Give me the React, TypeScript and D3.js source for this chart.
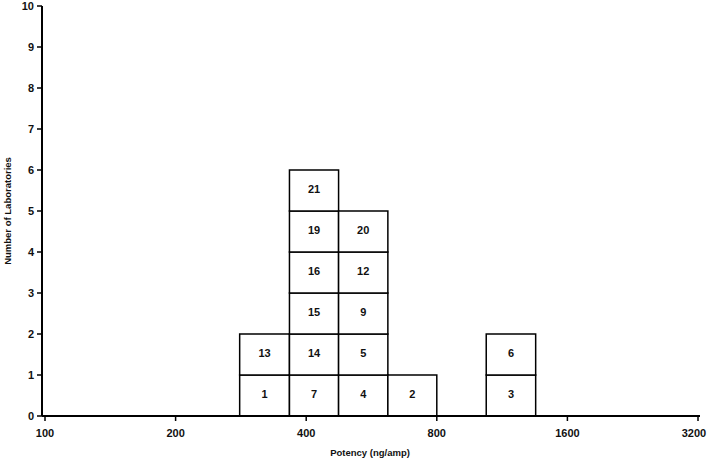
import React from "react";
import * as d3 from "d3";

const xTicks = [100, 200, 400, 800, 1600, 3200];
const yTicks = [0, 1, 2, 3, 4, 5, 6, 7, 8, 9, 10];
const binEdges = [281, 366, 475, 617, 800, 1040, 1352];
const binLabs: number[][] = [
  [1, 13],
  [7, 14, 15, 16, 19, 21],
  [4, 5, 9, 12, 20],
  [2],
  [],
  [3, 6],
];

const W = 709;
const H = 463;
const font = "Liberation Sans, Arial, sans-serif";

export default function App() {
  const x = d3.scaleLog().base(2).domain([100, 3200]).range([45, 698]);
  const y = d3.scaleLinear().domain([0, 10]).range([416, 6]);
  const axisLeft = 42;
  const axisRight = 700;

  const cells: { x0: number; x1: number; level: number; lab: number }[] = [];
  binLabs.forEach((labs, i) => {
    labs.forEach((lab, j) => {
      cells.push({ x0: binEdges[i], x1: binEdges[i + 1], level: j, lab });
    });
  });

  return (
    <svg
      width={W}
      height={H}
      style={{ position: "absolute", left: 0, top: 0, background: "#fff" }}
    >
      {cells.map((c, k) => (
        <g key={k}>
          <rect
            x={x(c.x0)}
            y={y(c.level + 1)}
            width={x(c.x1) - x(c.x0)}
            height={y(c.level) - y(c.level + 1)}
            fill="#fff"
            stroke="#000"
            strokeWidth={1.5}
          />
          <text
            x={(x(c.x0) + x(c.x1)) / 2}
            y={(y(c.level) + y(c.level + 1)) / 2 - 1}
            dy="0.35em"
            textAnchor="middle"
            fontFamily={font}
            fontSize={11}
            fontWeight="bold"
            fill="#111"
          >
            {c.lab}
          </text>
        </g>
      ))}
      {/* axes */}
      <line x1={axisLeft} x2={axisRight} y1={y(0)} y2={y(0)} stroke="#000" strokeWidth={2} />
      <line x1={axisLeft} x2={axisLeft} y1={y(0)} y2={y(10)} stroke="#000" strokeWidth={2} />
      {yTicks.map((t) => (
        <g key={"y" + t}>
          <line x1={axisLeft - 5} x2={axisLeft} y1={y(t)} y2={y(t)} stroke="#000" strokeWidth={1.5} />
          <text
            x={axisLeft - 8}
            y={y(t)}
            dy="0.35em"
            textAnchor="end"
            fontFamily={font}
            fontSize={11}
            fontWeight="bold"
            fill="#111"
          >
            {t}
          </text>
        </g>
      ))}
      {xTicks.map((t) => (
        <g key={"x" + t}>
          <line x1={x(t)} x2={x(t)} y1={y(0)} y2={y(0) + 5} stroke="#000" strokeWidth={1.5} />
          <text
            x={Math.min(x(t), W - 15)}
            y={y(0) + 21}
            textAnchor="middle"
            fontFamily={font}
            fontSize={11}
            fontWeight="bold"
            fill="#111"
          >
            {t}
          </text>
        </g>
      ))}
      <text
        x={370}
        y={456}
        textAnchor="middle"
        fontFamily={font}
        fontSize={9.5}
        fontWeight="bold"
        fill="#111"
      >
        Potency (ng/amp)
      </text>
      <text
        transform={`translate(11, ${y(5)}) rotate(-90)`}
        textAnchor="middle"
        fontFamily={font}
        fontSize={9.5}
        fontWeight="bold"
        fill="#111"
      >
        Number of Laboratories
      </text>
    </svg>
  );
}
